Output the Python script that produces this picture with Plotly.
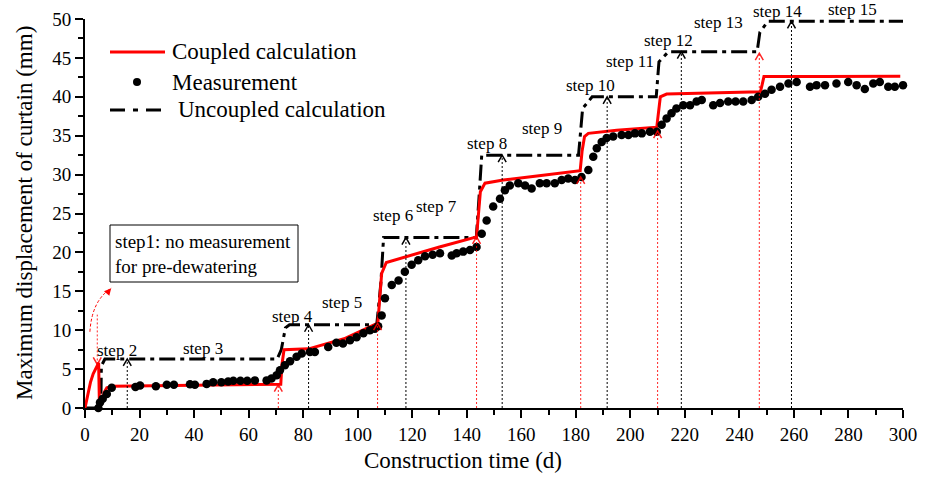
import plotly.graph_objects as go

# ---------------- data ----------------
coupled_x = [0, 1, 2, 3, 4, 5, 5.3, 6.3, 7, 8, 10, 20, 40, 60, 71.8, 72.2, 73, 82, 95, 107.4,
             108, 108.8, 110.5, 117, 130, 143.6, 144.3, 145, 146.7, 153.4, 165, 181.6, 182.3,
             183.2, 184.6, 195, 209.7, 210.3, 211, 213.3, 230, 247.7, 248.3, 249, 270, 299]
coupled_y = [0, 1.8, 3.3, 4.4, 5.2, 5.8, 0.2, 0.7, 2.0, 2.6, 2.8, 2.85, 2.9, 3.0, 3.05, 5.5, 7.5,
             7.6, 8.9, 10.9, 14, 17.3, 18.7, 19.4, 20.7, 22.0, 25, 27.8, 28.9, 29.3, 29.8, 30.5,
             33, 34.9, 35.3, 35.7, 36.1, 38, 40.0, 40.35, 40.5, 40.65, 41.5, 42.6, 42.62, 42.65]

meas_x = [4.9, 5.5, 6.5, 8, 9.8, 18.5, 20.2, 26, 30, 32.6, 38.5, 40.3, 44.6, 47, 50, 52.5, 54.4,
          57, 59.5, 62.3, 66.6, 68.4, 70.3, 71.5, 73.3, 75.2, 77.6, 79.5, 82.5, 84.3, 89.2, 92.2,
          94.6, 97.2, 99.6, 102.1, 104.5, 106.3, 107.5, 108.8, 110, 112.5, 115, 117.3, 119.8,
          122.2, 124.7, 127.5, 130.2, 134.5, 136.3, 138.7, 141.2, 143.6, 145.5, 147.3, 149.7,
          152.2, 154, 155.8, 158.9, 161.4, 163.8, 166.8, 169.3, 172.3, 174.8, 177.2, 179.7,
          182.1, 184.6, 186.4, 187.7, 189.5, 191.3, 193.7, 196.8, 199.3, 201.7, 204.2, 207.2,
          209.7, 211.5, 213.3, 215.1, 216.9, 219.4, 221.9, 224.3, 226.2, 230.4, 232.9, 235.9,
          238.6, 241.4, 244.5, 246.9, 249.4, 251.8, 254.9, 258, 261, 265.9, 268.3, 271.4, 275.6,
          279.9, 283, 286, 289.1, 291.5, 294.6, 297, 300]
meas_y = [0, 0.7, 1.2, 1.8, 2.6, 2.7, 2.9, 2.8, 3.0, 3.0, 3.05, 3.0, 3.1, 3.3, 3.3, 3.4, 3.5,
          3.5, 3.5, 3.55, 3.55, 3.8, 4.2, 4.85, 5.5, 6.0, 6.6, 7.0, 7.2, 7.2, 7.85, 8.4,
          8.3, 8.7, 9.1, 9.6, 10.0, 10.2, 10.5, 11.9, 14.1, 15.8, 16.4, 17.5, 18.4,
          19.0, 19.5, 19.7, 19.9, 19.6, 19.9, 20.1, 20.3, 20.7, 22.4, 24.1, 25.9,
          26.9, 28.0, 28.6, 28.9, 28.6, 28.2, 28.9, 28.9, 28.9, 29.3, 29.5, 29.3,
          29.7, 30.6, 32.3, 33.4, 34.2, 34.7, 34.9, 35.1, 35.1, 35.3, 35.3, 35.5,
          35.5, 36.4, 37.2, 37.9, 38.5, 38.9, 38.9, 39.4, 39.6, 38.9, 39.2, 39.4,
          39.4, 39.4, 39.6, 40.0, 40.4, 40.9, 41.3, 41.7, 41.9, 41.3, 41.5, 41.5, 41.7,
          41.9, 41.5, 41.0, 41.7, 41.9, 41.3, 41.3, 41.5]

uncoupled_x = [0, 5.8, 6.0, 7.3, 70.5, 72, 73.5, 75, 107, 108.5, 109.5, 143.5, 144.5, 145.5,
               181, 182.5, 186, 209.5, 210.5, 214, 246.5, 247.5, 250.5, 300]
uncoupled_y = [0, 0, 5.4, 6.3, 6.3, 7.5, 10.3, 10.7, 10.7, 16, 21.9, 21.9, 27, 32.5,
               32.5, 38.5, 40.0, 40.0, 44.5, 45.8, 45.8, 48.3, 49.7, 49.7]

black_arrow_x = [15.5, 82, 117.7, 153, 191.5, 218.7, 259.1]
black_arrow_top = [6.3, 10.7, 21.9, 32.5, 40.0, 45.8, 49.7]
red_arrow_x = [70.9, 107.3, 143.6, 181.8, 210, 247.3]
red_arrow_top = [3.0, 10.9, 22.0, 29.7, 35.6, 45.6]

step_labels = ["step 2", "step 3", "step 4", "step 5", "step 6", "step 7", "step 8", "step 9",
               "step 10", "step 11", "step 12", "step 13", "step 14", "step 15"]
step_label_x = [11.6, 43.3, 76.2, 94.1, 112.8, 129, 147.5, 167.5, 185.4, 199.9, 213.9, 232.5, 254, 281.4]
step_label_y = [7.4, 7.7, 11.8, 13.6, 24.8, 25.9, 34.0, 35.9, 41.4, 44.5, 47.2, 49.6, 51.0, 51.2]

# ---------------- layout geometry ----------------
W, H = 932, 478
ML, MR, MT, MB = 85, 29, 19, 70
PW, PH = W - ML - MR, H - MT - MB
XR, YR = [0, 300], [0, 50]
pxx = PW / (XR[1] - XR[0])   # pixels per day
pxy = PH / (YR[1] - YR[0])   # pixels per mm
FONT = "Times New Roman, Liberation Serif, DejaVu Serif, serif"


def paper_x(px):
    return (px - ML) / PW


def paper_y(py):
    return (H - MB - py) / PH


def data_to_paper_x(x):
    return (x - XR[0]) / (XR[1] - XR[0])


def data_to_paper_y(y):
    return (y - YR[0]) / (YR[1] - YR[0])


DASHDOT = "16px,5px,4px,5px"

fig = go.Figure()
fig.add_trace(go.Scatter(x=uncoupled_x, y=uncoupled_y, mode="lines",
                         line=dict(color="black", width=3, dash=DASHDOT),
                         name="Uncoupled calculation", cliponaxis=False))
fig.add_trace(go.Scatter(x=coupled_x, y=coupled_y, mode="lines",
                         line=dict(color="#ff0000", width=3), name="Coupled calculation",
                         cliponaxis=False))
fig.add_trace(go.Scatter(x=meas_x, y=meas_y, mode="markers",
                         marker=dict(color="black", size=8.5), name="Measurement",
                         cliponaxis=False))

shapes = []
hw = 4 / pxx
hh = 7 / pxy


def arrow(x, top, color, bottom=0.0, down=False, width=1):
    shapes.append(dict(type="line", xref="x", yref="y", x0=x, x1=x, y0=bottom, y1=top,
                       line=dict(color=color, width=width, dash="2px,2px")))
    if down:
        tip = bottom
        shapes.append(dict(type="path", xref="x", yref="y",
                           path=f"M {x-hw},{tip+hh} L {x},{tip} L {x+hw},{tip+hh}",
                           line=dict(color=color, width=1.5)))
    else:
        shapes.append(dict(type="path", xref="x", yref="y",
                           path=f"M {x-hw},{top-hh} L {x},{top} L {x+hw},{top-hh}",
                           line=dict(color=color, width=1.5)))


for x, t in zip(black_arrow_x, black_arrow_top):
    arrow(x, t, "black")
for x, t in zip(red_arrow_x, red_arrow_top):
    arrow(x, t, "rgba(255,0,0,0.85)")
# step 1 arrow pointing down to the pre-dewatering peak
arrow(4.5, 12.0, "rgba(255,0,0,0.85)", bottom=5.6, down=True)
# curved arrow towards the note box
shapes.append(dict(type="path", xref="x", yref="y",
                   path="M 1.8,9.8 Q 2.5,13.8 9.6,15.4",
                   line=dict(color="#ff0000", width=1, dash="3px,2px")))

# note box
shapes.append(dict(type="rect", xref="paper", yref="paper",
                   x0=paper_x(110), x1=paper_x(298), y0=paper_y(282), y1=paper_y(225),
                   line=dict(color="black", width=1), fillcolor="white", layer="above"))

# legend samples
shapes.append(dict(type="line", xref="paper", yref="paper", x0=paper_x(110), x1=paper_x(165),
                   y0=paper_y(52), y1=paper_y(52), line=dict(color="#ff0000", width=3)))
shapes.append(dict(type="circle", xref="paper", yref="paper", x0=paper_x(133), x1=paper_x(141),
                   y0=paper_y(86), y1=paper_y(78), fillcolor="black", line=dict(color="black", width=0)))
shapes.append(dict(type="line", xref="paper", yref="paper", x0=paper_x(110), x1=paper_x(165),
                   y0=paper_y(110), y1=paper_y(110),
                   line=dict(color="black", width=3, dash="15px,8px,5px,8px")))

annotations = []
annotations.append(dict(x=9.6, y=15.4, ax=8.4, ay=14.9, xref="x", yref="y", axref="x", ayref="y",
                        text="", showarrow=True, arrowhead=2, arrowsize=1.4, arrowwidth=1,
                        arrowcolor="#ff0000"))
for t, x, y in zip(step_labels, step_label_x, step_label_y):
    annotations.append(dict(x=data_to_paper_x(x), y=data_to_paper_y(y), xref="paper", yref="paper",
                            text=t, showarrow=False, xanchor="center", yanchor="middle",
                            font=dict(family=FONT, size=17, color="black")))

annotations.append(dict(x=paper_x(113), y=paper_y(253.5), xref="paper", yref="paper",
                        text="step1: no measurement<br>for pre-dewatering", showarrow=False,
                        xanchor="left", yanchor="middle", align="left",
                        font=dict(family=FONT, size=19, color="black")))

for txt, px, py in [("Coupled calculation", 170, 52), ("Measurement", 170, 82),
                    ("Uncoupled calculation", 176, 110)]:
    annotations.append(dict(x=paper_x(px), y=paper_y(py), xref="paper", yref="paper", text=txt,
                            showarrow=False, xanchor="left", yanchor="middle",
                            font=dict(family=FONT, size=23, color="black")))

annotations.append(dict(x=paper_x(463), y=paper_y(460), xref="paper", yref="paper",
                        text="Construction time (d)", showarrow=False,
                        xanchor="center", yanchor="middle",
                        font=dict(family=FONT, size=23, color="black")))
annotations.append(dict(x=paper_x(24), y=paper_y(213), xref="paper", yref="paper",
                        text="Maximum displacement of curtain (mm)", showarrow=False, textangle=-90,
                        xanchor="center", yanchor="middle",
                        font=dict(family=FONT, size=23, color="black")))

axis_common = dict(showgrid=False, zeroline=False, showline=True, linecolor="black", linewidth=2,
                   ticks="outside", ticklen=8, tickwidth=2, tickcolor="black",
                   tickfont=dict(family=FONT, size=19, color="black"), mirror=False)

fig.update_layout(
    width=W, height=H,
    margin=dict(l=ML, r=MR, t=MT, b=MB, autoexpand=False),
    paper_bgcolor="white", plot_bgcolor="white",
    showlegend=False,
    font=dict(family=FONT, color="black"),
    shapes=shapes, annotations=annotations,
    xaxis=dict(range=XR, dtick=20, tick0=0,
               minor=dict(dtick=10, ticklen=5, tickwidth=2, tickcolor="black", ticks="outside"),
               **axis_common),
    yaxis=dict(range=YR, dtick=5, tick0=0,
               minor=dict(dtick=2.5, ticklen=5, tickwidth=2, tickcolor="black", ticks="outside"),
               **axis_common),
)

fig.write_html("out.html", config={"displayModeBar": False},
               post_script="document.body.style.margin='0';")
